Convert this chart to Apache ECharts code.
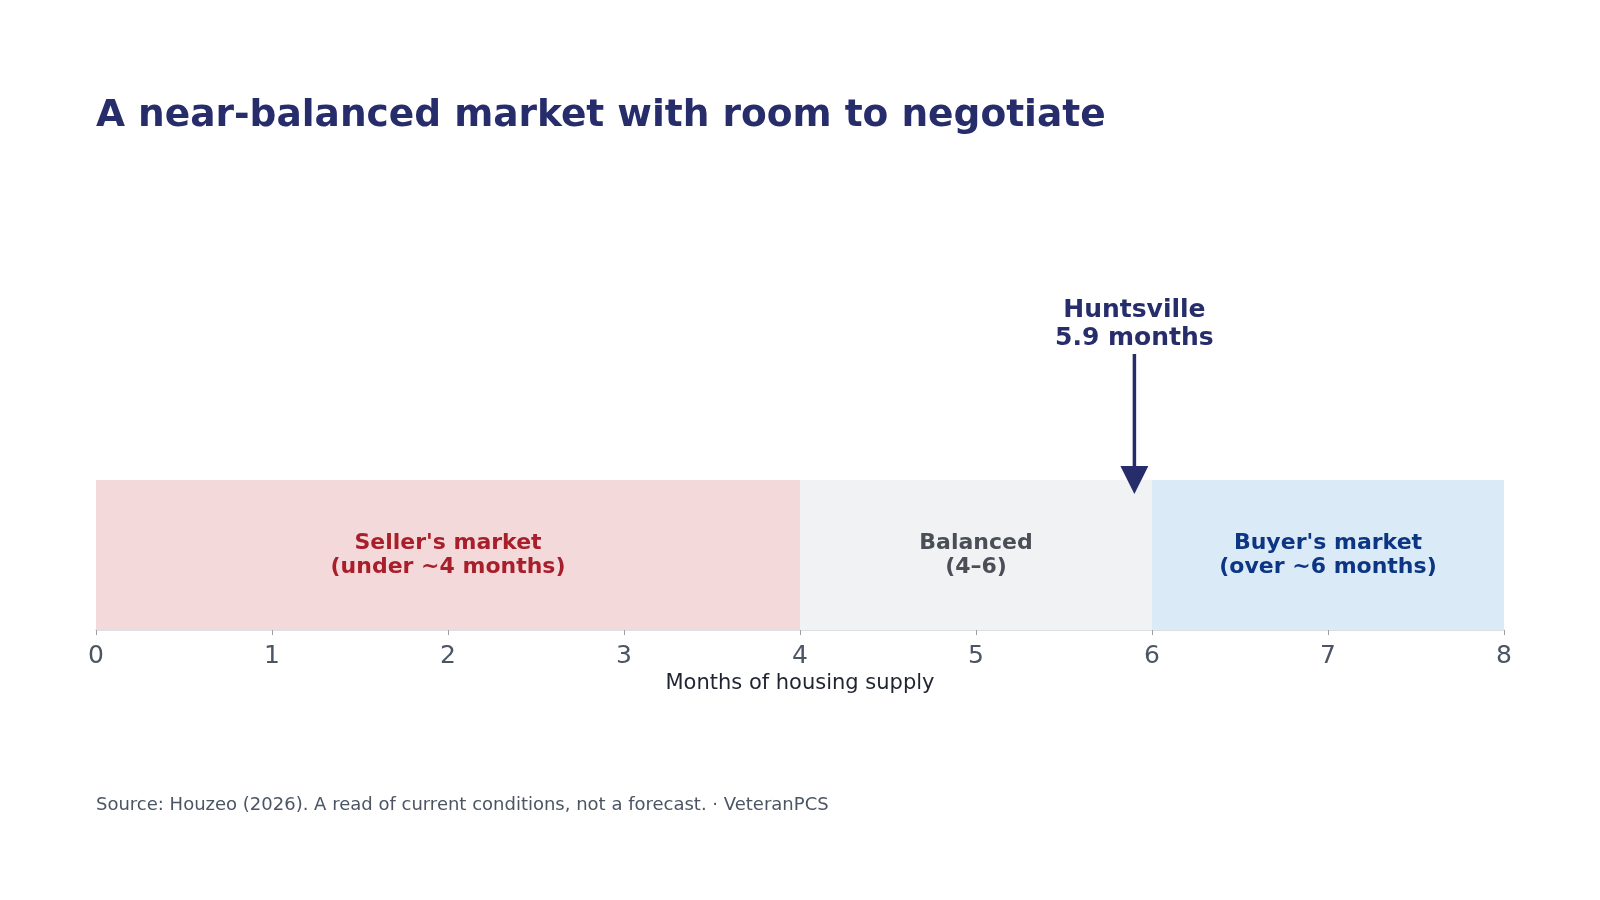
<!DOCTYPE html>
<html>
<head>
<meta charset="utf-8">
<script src="https://cdn.jsdelivr.net/npm/echarts@6/dist/echarts.min.js"></script>
<style>
  *{ margin:0; padding:0; }
  body{ background:#fff; }
  #main{ width:1600px; height:900px; }
</style>
</head>
<body>
<div id="main"></div>
<script>
// zones of the market, in months of supply
var zoneStart = [0, 4, 6];
var zoneEnd = [4, 6, 8];
var zoneNames = ["Seller's market\n(under ~4 months)", "Balanced\n(4\u20136)", "Buyer's market\n(over ~6 months)"];
var zoneFill = ['#f4d9da', '#f1f2f4', '#dbeaf7'];
var zoneText = ['#a81e2a', '#4a4f57', '#0c3583'];

var cityName = 'Huntsville';
var cityValue = 5.9;

var xTicks = [0, 1, 2, 3, 4, 5, 6, 7, 8];

var font = 'DejaVu Sans';
var navy = '#272d6b';

var zoneData = zoneStart.map(function (s, i) {
  return [s, zoneEnd[i], i];
});

var chart = echarts.init(document.getElementById('main'));

chart.setOption({
  animation: false,
  title: [
    {
      text: 'A near-balanced market with room to negotiate',
      left: 96,
      top: 95,
      padding: 0,
      textStyle: { fontFamily: font, fontSize: 37.5, fontWeight: 'bold', color: navy, lineHeight: 42 }
    },
    {
      text: 'Source: Houzeo (2026). A read of current conditions, not a forecast. \u00b7 VeteranPCS',
      left: 96,
      top: 794,
      padding: 0,
      textStyle: { fontFamily: font, fontSize: 18, fontWeight: 'normal', color: '#4b5563', lineHeight: 22 }
    }
  ],
  grid: { left: 96, right: 96, top: 480, bottom: 270 },
  xAxis: {
    type: 'value',
    min: xTicks[0],
    max: xTicks[xTicks.length - 1],
    interval: 1,
    name: 'Months of housing supply',
    nameLocation: 'middle',
    nameGap: 43,
    nameTextStyle: { fontFamily: font, fontSize: 21, color: '#1f2430' },
    axisLine: { lineStyle: { color: '#d1d5db', width: 1.5 } },
    axisTick: { show: true, length: 5, lineStyle: { color: '#9aa0a8' } },
    axisLabel: { fontFamily: font, fontSize: 25, color: '#4b5563', margin: 14 },
    splitLine: { show: false }
  },
  yAxis: {
    type: 'value',
    min: 0,
    max: 1,
    show: false
  },
  series: [
    {
      type: 'custom',
      data: zoneData,
      z: 1,
      renderItem: function (params, api) {
        var i = api.value(2);
        var p0 = api.coord([api.value(0), 1]);
        var p1 = api.coord([api.value(1), 0]);
        return {
          type: 'group',
          children: [
            {
              type: 'rect',
              shape: { x: p0[0], y: p0[1], width: p1[0] - p0[0], height: p1[1] - p0[1] },
              style: { fill: zoneFill[i] }
            },
            {
              type: 'text',
              x: (p0[0] + p1[0]) / 2,
              y: (p0[1] + p1[1]) / 2,
              style: {
                text: zoneNames[i],
                align: 'center',
                verticalAlign: 'middle',
                fontFamily: font,
                fontSize: 22,
                fontWeight: 'bold',
                lineHeight: 24,
                fill: zoneText[i]
              }
            }
          ]
        };
      }
    },
    {
      type: 'custom',
      data: [[cityValue, 1]],
      z: 5,
      renderItem: function (params, api) {
        var p = api.coord([api.value(0), api.value(1)]);
        var x = p[0];
        var tip = p[1] + 14;
        return {
          type: 'group',
          children: [
            {
              type: 'line',
              shape: { x1: x, y1: p[1] - 126, x2: x, y2: tip - 24 },
              style: { stroke: navy, lineWidth: 3.5 }
            },
            {
              type: 'polygon',
              shape: { points: [[x - 14, tip - 28], [x + 14, tip - 28], [x, tip]] },
              style: { fill: navy }
            },
            {
              type: 'text',
              x: x,
              y: p[1] - 128,
              style: {
                text: cityName + '\n' + api.value(0).toFixed(1) + ' months',
                align: 'center',
                verticalAlign: 'bottom',
                fontFamily: font,
                fontSize: 25,
                fontWeight: 'bold',
                lineHeight: 28,
                fill: navy
              }
            }
          ]
        };
      }
    }
  ]
});
</script>
</body>
</html>
